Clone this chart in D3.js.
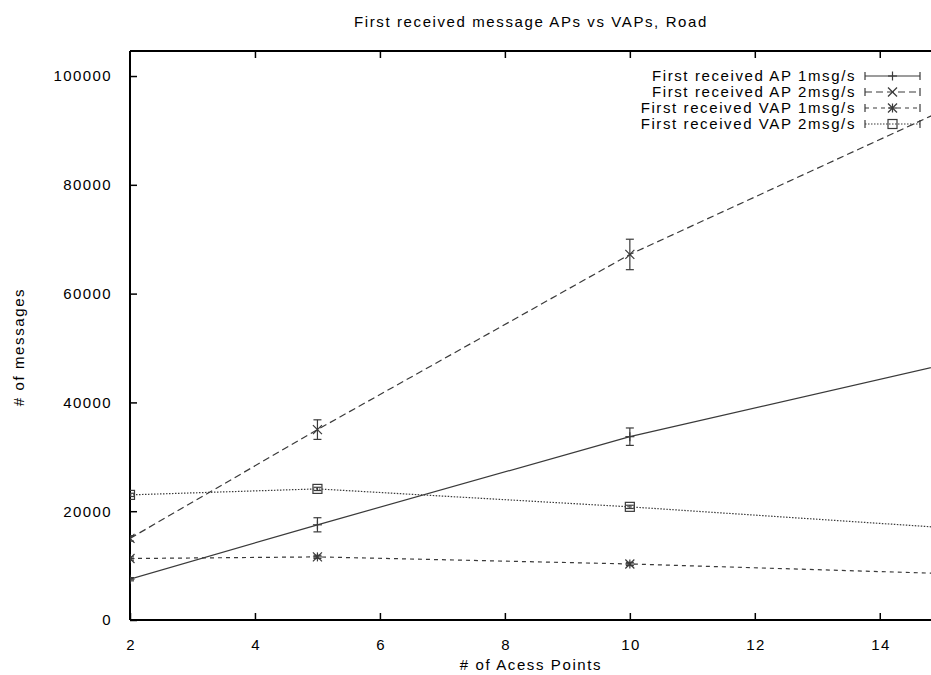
<!DOCTYPE html>
<html>
<head>
<meta charset="utf-8">
<script src="https://cdn.jsdelivr.net/npm/d3@7"></script>
<style>
body{margin:0;background:#fff;}
svg{display:block;font-family:"Liberation Sans",Arial,sans-serif;}
</style>
</head>
<body>
<svg id="chart" width="931" height="675"></svg>
<script>
const xValues = [2, 5, 10, 20];
const apOne = [7500, 17500, 33700, 60000];
const apOneErr = [300, 1300, 1600, 2000];
const apTwo = [15000, 35000, 67200, 120000];
const apTwoErr = [500, 1800, 2800, 3500];
const vapOne = [11300, 11600, 10300, 6800];
const vapOneErr = [300, 300, 300, 300];
const vapTwo = [23000, 24100, 20800, 13200];
const vapTwoErr = [300, 300, 300, 300];
const xTicks = [2, 4, 6, 8, 10, 12, 14];
const yTicks = [0, 20000, 40000, 60000, 80000, 100000];
const seriesNames = ["First received AP 1msg/s", "First received AP 2msg/s", "First received VAP 1msg/s", "First received VAP 2msg/s"];

(function () {
const series = [
  {name: seriesNames[0], values: apOne, err: apOneErr, dash: null, marker: "plus"},
  {name: seriesNames[1], values: apTwo, err: apTwoErr, dash: "7,4", marker: "cross"},
  {name: seriesNames[2], values: vapOne, err: vapOneErr, dash: "4,4", marker: "star"},
  {name: seriesNames[3], values: vapTwo, err: vapTwoErr, dash: "1.5,1.5", marker: "square"}
];

const svg = d3.select("#chart");
const pLeft = 130, pRight = 931, pTop = 51, pBottom = 620;
const x = d3.scaleLinear().domain([2, 14.82]).range([pLeft, pRight]);
const y = d3.scaleLinear().domain([0, 104600]).range([pBottom, pTop]);
const lineColor = "#3a3a3a";
const FS = 15, LS = 1.6, LSD = 1.4;

svg.append("defs").append("clipPath").attr("id", "clip")
  .append("rect").attr("x", pLeft).attr("y", pTop).attr("width", pRight - pLeft).attr("height", pBottom - pTop);

// Title
svg.append("text").attr("x", 531).attr("y", 27).attr("text-anchor", "middle")
  .style("font-size", FS + "px").style("letter-spacing", LS + "px").text("First received message APs vs VAPs, Road");

// Axes
const xAxis = svg.append("g").attr("transform", `translate(0,${pBottom})`)
  .call(d3.axisBottom(x).tickValues(xTicks).tickSize(-7).tickPadding(19).tickFormat(d3.format("d")));
const xTop = svg.append("g").attr("transform", `translate(0,${pTop})`)
  .call(d3.axisTop(x).tickValues(xTicks.slice(1)).tickSize(-7).tickFormat(""));
const yAxis = svg.append("g").attr("transform", `translate(${pLeft},0)`)
  .call(d3.axisLeft(y).tickValues(yTicks).tickSize(-7).tickPadding(18).tickFormat(d3.format("d")));
[xAxis, xTop, yAxis].forEach(g => {
  g.attr("font-size", null).attr("font-family", null);
  g.select(".domain").remove();
  g.selectAll(".tick line").attr("stroke", "#000").attr("stroke-width", 1.5);
  g.selectAll("text").style("font-size", FS + "px").attr("fill", "#000")
    .style("letter-spacing", LSD + "px")
    .style("font-family", "'Liberation Sans', Arial, sans-serif");
});
xAxis.selectAll("text").attr("dx", LSD / 2);
// frame lines
svg.append("line").attr("x1", pLeft).attr("x2", pLeft).attr("y1", pTop).attr("y2", pBottom).attr("stroke", "#000").attr("stroke-width", 2);
svg.append("line").attr("x1", pLeft).attr("x2", pRight).attr("y1", pBottom).attr("y2", pBottom).attr("stroke", "#000").attr("stroke-width", 2);
svg.append("line").attr("x1", pLeft).attr("x2", pRight).attr("y1", pTop).attr("y2", pTop).attr("stroke", "#000").attr("stroke-width", 2);

// Axis labels
svg.append("text").attr("x", 531).attr("y", 670).attr("text-anchor", "middle")
  .style("font-size", FS + "px").style("letter-spacing", LS + "px").text("# of Acess Points");
svg.append("text").attr("transform", "translate(24,347) rotate(-90)").attr("text-anchor", "middle")
  .style("font-size", FS + "px").style("letter-spacing", LS + "px").text("# of messages");

function drawMarker(g, type, cx, cy) {
  const s = 4.5;
  const st = {stroke: lineColor, "stroke-width": 1.2, fill: "none"};
  const addLine = (x1, y1, x2, y2) => {
    const l = g.append("line").attr("x1", x1).attr("y1", y1).attr("x2", x2).attr("y2", y2);
    Object.entries(st).forEach(([k, v]) => l.attr(k, v));
  };
  if (type === "plus" || type === "star") {
    addLine(cx - s, cy, cx + s, cy);
    addLine(cx, cy - s, cx, cy + s);
  }
  if (type === "cross" || type === "star") {
    addLine(cx - s, cy - s, cx + s, cy + s);
    addLine(cx - s, cy + s, cx + s, cy - s);
  }
  if (type === "square") {
    const r = g.append("rect").attr("x", cx - s).attr("y", cy - s).attr("width", 2 * s).attr("height", 2 * s);
    Object.entries(st).forEach(([k, v]) => r.attr(k, v));
  }
}

const plot = svg.append("g").attr("clip-path", "url(#clip)");
const line = d3.line().x((d, i) => x(xValues[i])).y(d => y(d));

series.forEach(s => {
  const g = plot.append("g");
  g.append("path").datum(s.values).attr("d", line)
    .attr("fill", "none").attr("stroke", lineColor).attr("stroke-width", 1.2)
    .attr("stroke-dasharray", s.dash);
  s.values.forEach((v, i) => {
    const cx = x(xValues[i]);
    const y1 = y(v - s.err[i]), y2 = y(v + s.err[i]);
    g.append("line").attr("x1", cx).attr("x2", cx).attr("y1", y1).attr("y2", y2).attr("stroke", lineColor).attr("stroke-width", 1.2);
    g.append("line").attr("x1", cx - 4).attr("x2", cx + 4).attr("y1", y1).attr("y2", y1).attr("stroke", lineColor).attr("stroke-width", 1.2);
    g.append("line").attr("x1", cx - 4).attr("x2", cx + 4).attr("y1", y2).attr("y2", y2).attr("stroke", lineColor).attr("stroke-width", 1.2);
    drawMarker(g, s.marker, cx, y(v));
  });
});

// Legend
const legend = svg.append("g");
series.forEach((s, i) => {
  const ly = 76 + i * 16;
  legend.append("text").attr("x", 856).attr("y", ly).attr("dy", "0.35em").attr("text-anchor", "end")
    .style("font-size", FS + "px").style("letter-spacing", LS + "px").text(s.name);
  legend.append("line").attr("x1", 865).attr("x2", 920).attr("y1", ly).attr("y2", ly)
    .attr("stroke", lineColor).attr("stroke-width", 1.2).attr("stroke-dasharray", s.dash);
  [865, 920].forEach(ex => legend.append("line").attr("x1", ex).attr("x2", ex).attr("y1", ly - 4).attr("y2", ly + 4)
    .attr("stroke", lineColor).attr("stroke-width", 1.2));
  drawMarker(legend, s.marker, 892.5, ly);
});
})();
</script>
</body>
</html>
